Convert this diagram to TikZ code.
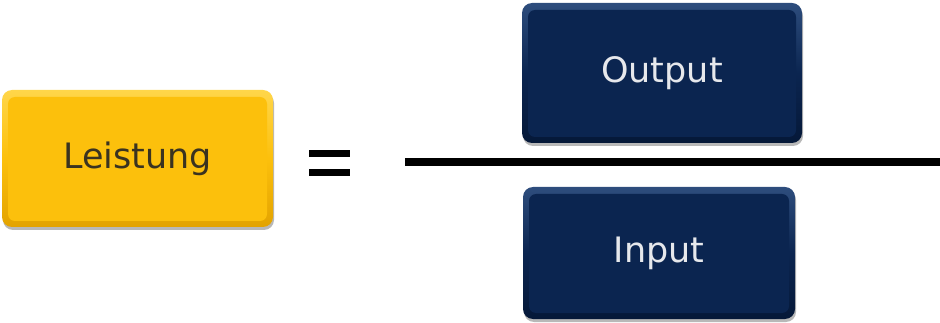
\documentclass[tikz,border=0pt]{standalone}
\usepackage{fontspec}
\setmainfont{DejaVu Sans}
\usetikzlibrary{shadows}

\definecolor{gold}{HTML}{FCC00C}
\definecolor{goldhi}{HTML}{FFD64A}
\definecolor{goldlo}{HTML}{E3A300}
\definecolor{goldtext}{HTML}{3A3320}
\definecolor{navy}{HTML}{0B2550}
\definecolor{navyhi}{HTML}{2E4D7D}
\definecolor{navylo}{HTML}{051838}
\definecolor{navytext}{HTML}{E6E8EC}

\tikzset{
  keybox/.style={rounded corners=10pt, inner sep=0pt,
    font=\fontsize{35}{40}\selectfont,
    drop shadow={shadow xshift=1pt, shadow yshift=-3pt, opacity=0.28, fill=black}},
  % raised key: shaded rim with a flat inset face
  keyface/.style={path picture={
    \fill[#1, rounded corners=7pt]
      ([xshift=6pt,yshift=-7pt]path picture bounding box.north west) rectangle
      ([xshift=-6pt,yshift=6pt]path picture bounding box.south east);}},
  goldkey/.style={keybox, top color=goldhi, bottom color=goldlo, middle color=gold,
    keyface=gold, text=goldtext},
  navykey/.style={keybox, top color=navyhi, bottom color=navylo, middle color=navy,
    keyface=navy, text=navytext},
  bar/.style={line width=#1, black, line cap=butt},
}

\begin{document}
\begin{tikzpicture}[x=1pt, y=-1pt]
  \useasboundingbox (0,0) rectangle (940,323);

  \node[goldkey, minimum width=271pt, minimum height=137pt] (leistung) at (137.5,158.5) {Leistung};
  \node[navykey, minimum width=280pt, minimum height=140pt] (output) at (662,73) {Output};
  \node[navykey, minimum width=272pt, minimum height=132pt] (input) at (659,253) {Input};

  % equals sign
  \coordinate (eqa) at (309,154);
  \coordinate (eqb) at (350,154);
  \coordinate (eqc) at (309,173);
  \coordinate (eqd) at (350,173);
  \draw[bar=7pt] (eqa) -- (eqb);
  \draw[bar=7pt] (eqc) -- (eqd);

  % fraction line
  \coordinate (fracl) at (405,162);
  \coordinate (fracr) at (940,162);
  \draw[bar=8pt] (fracl) -- (fracr);
\end{tikzpicture}
\end{document}
